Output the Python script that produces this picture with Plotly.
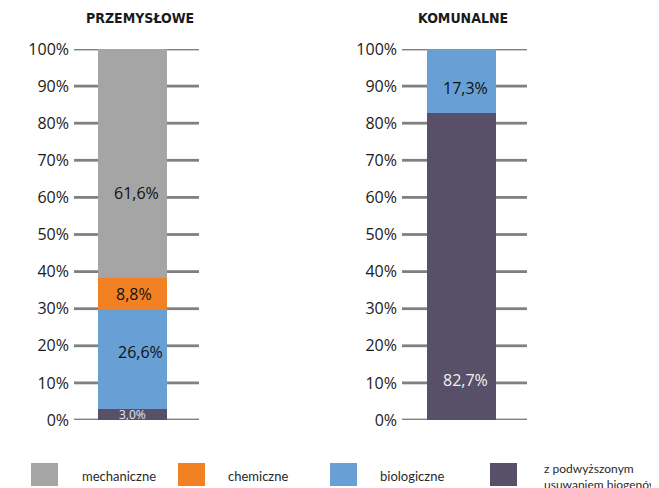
import plotly.graph_objects as go

# ---- data ----
panels = ["PRZEMYSŁOWE", "KOMUNALNE"]
series_names = ["z podwyższonym usuwaniem biogenów", "biologiczne", "chemiczne", "mechaniczne"]
przem_values = [3.0, 26.6, 8.8, 61.6]     # bottom -> top
komun_values = [82.7, 17.3, 0.0, 0.0]
przem_labels = ["3,0%", "26,6%", "8,8%", "61,6%"]
komun_labels = ["82,7%", "17,3%", "", ""]
tick_vals = [0, 10, 20, 30, 40, 50, 60, 70, 80, 90, 100]
tick_text = ["0%", "10%", "20%", "30%", "40%", "50%", "60%", "70%", "80%", "90%", "100%"]
legend_names = ["mechaniczne", "chemiczne", "biologiczne", "z podwyższonym<br>usuwaniem biogenów"]

colors = {
    "mechaniczne": "#A4A5A4",
    "chemiczne": "#F28123",
    "biologiczne": "#68A0D5",
    "z podwyższonym usuwaniem biogenów": "#575068",
}

# label placement inside segments (value-axis position of each label)
przem_label_y = [1.4, 18.3, 34.0, 61.2]
komun_label_y = [10.8, 89.5, None, None]

# page offset (browser body margin) and figure size
OFF = 8
W, H = 659 - OFF, 488 - OFF


def px(x):
    return (x - OFF) / W


def py(y):
    return 1 - (y - OFF) / H


BAR_W = 0.552
x_ranges = {"x": [-0.468, 0.532], "x2": [-0.476, 0.524]}
x_domains = {"x": [px(74), px(199)], "x2": [px(402), px(527)]}

fig = go.Figure()

for xa, ya, cat, vals in [("x", "y", panels[0], przem_values), ("x2", "y2", panels[1], komun_values)]:
    for name, v in zip(series_names, vals):
        if v <= 0:
            continue
        fig.add_trace(go.Bar(
            x=[cat], y=[v], name=name, marker_color=colors[name],
            marker_line_width=0, width=BAR_W, xaxis=xa, yaxis=ya,
            showlegend=False, hoverinfo="skip",
        ))

fig.update_layout(barmode="stack")

grid_style = dict(range=[0, 100], tickvals=tick_vals, ticktext=tick_text,
                  showgrid=False, zeroline=False, showline=False, ticks="", automargin=False,
                  tickfont=dict(family="Open Sans", size=16, color="#1a1a1a"),
                  ticklabelstandoff=4)
x_style = dict(showticklabels=False, showgrid=False, zeroline=False, automargin=False)

fig.update_layout(
    width=W, height=H,
    margin=dict(l=0, r=0, t=0, b=0, autoexpand=False),
    paper_bgcolor="white", plot_bgcolor="rgba(255,255,255,0)",
    xaxis=dict(domain=x_domains["x"], range=x_ranges["x"], **x_style),
    xaxis2=dict(domain=x_domains["x2"], range=x_ranges["x2"], **x_style),
    yaxis=dict(domain=[py(420), py(49)], anchor="x", **grid_style),
    yaxis2=dict(domain=[py(420), py(49)], anchor="x2", **grid_style),
    showlegend=False,
)

# horizontal grid bars at each tick, on both sides of the column (paper x, data y)
for xa, yr in [("x", "y"), ("x2", "y2")]:
    r0, r1 = x_ranges[xa]
    d0, d1 = x_domains[xa]
    span = r1 - r0

    def to_paper(v):
        return d0 + (v - r0) / span * (d1 - d0)

    left_end = to_paper(-BAR_W / 2)
    right_start = to_paper(BAR_W / 2)
    for tv in tick_vals:
        for a, b in [(d0, left_end), (right_start, d1)]:
            fig.add_shape(type="line", xref="paper", yref=yr, x0=a, x1=b, y0=tv, y1=tv,
                          line=dict(color="#808080", width=2.8), layer="above")

# value labels
label_colors = ["#e6e6ee", "#111111", "#111111", "#111111"]
label_sizes = [12, 16, 16, 16]
for xr, yr, cat, labels, ys, dxs in [
    ("x", "y", panels[0], przem_labels, przem_label_y, [0, 8, 1, 4]),
    ("x2", "y2", panels[1], komun_labels, komun_label_y, [4, 4, 0, 0]),
]:
    for i, (lab, yy) in enumerate(zip(labels, ys)):
        if not lab:
            continue
        col = label_colors[i]
        size = label_sizes[i]
        if cat == panels[1] and i == 0:
            col, size = "#f2f2f2", 16
        fig.add_annotation(x=cat, y=yy, xref=xr, yref=yr, text=lab, showarrow=False,
                           xshift=dxs[i], font=dict(family="Open Sans", size=size, color=col))

# panel titles
for txt, cx in [(panels[0], 140), (panels[1], 463)]:
    fig.add_annotation(x=px(cx), y=py(18.5), xref="paper", yref="paper",
                       text="<b>" + txt + "</b>", showarrow=False, xanchor="center", yanchor="middle",
                       font=dict(family="DejaVu Sans Condensed", size=14, color="#1a1a1a"))

# legend (drawn)
leg_colors = [colors["mechaniczne"], colors["chemiczne"], colors["biologiczne"],
              colors["z podwyższonym usuwaniem biogenów"]]
sq_x = [31, 178, 330, 490]
txt_x = [80, 226, 378, 542]
for name, col, sx, tx in zip(legend_names, leg_colors, sq_x, txt_x):
    fig.add_shape(type="rect", xref="paper", yref="paper",
                  x0=px(sx), x1=px(sx + 27), y0=py(486), y1=py(463),
                  fillcolor=col, line_width=0)
    two = "<br>" in name
    fig.add_annotation(x=px(tx), y=py(476), xref="paper", yref="paper",
                       text=name, showarrow=False, xanchor="left", yanchor="middle", align="left",
                       font=dict(family="Lato", size=12 if two else 13, color="#2a2a2a"))

fig.write_html("out.html")
